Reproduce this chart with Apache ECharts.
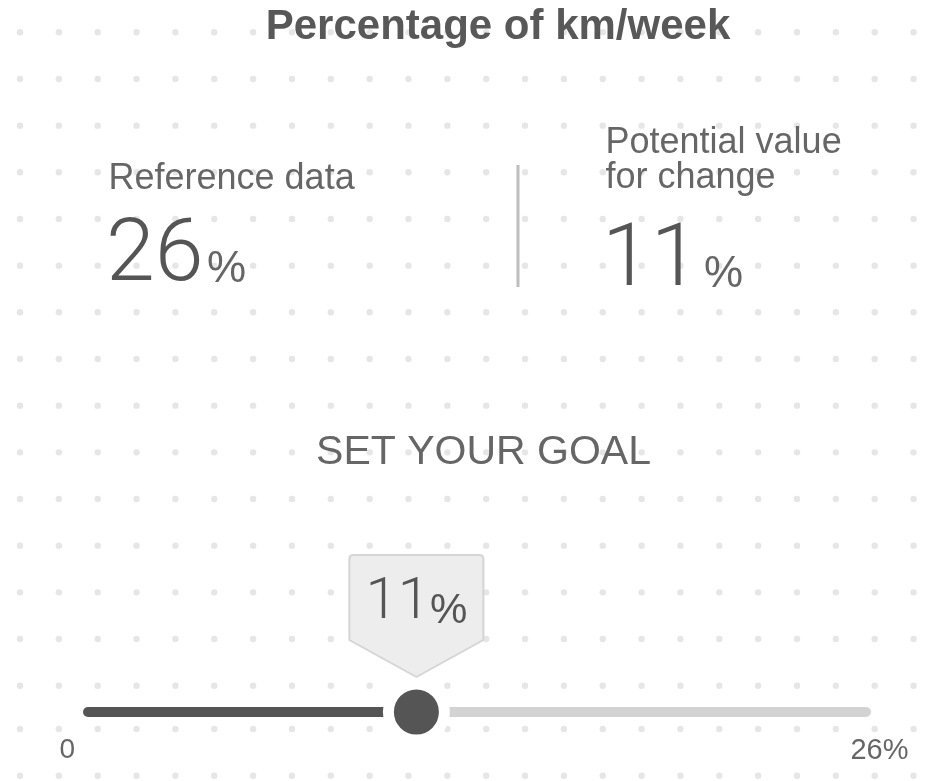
<!DOCTYPE html>
<html>
<head>
<meta charset="utf-8">
<script src="https://cdn.jsdelivr.net/npm/echarts@6/dist/echarts.min.js"></script>
<style>
  html, body { margin: 0; padding: 0; background: #fff; }
  #main { width: 948px; height: 781px; }
</style>
</head>
<body>
<div id="main"></div>
<script>
// data
var chartTitle = 'Percentage of km/week';
var panelLabels = ['Reference data', 'Potential value\nfor change'];
var panelValues = [26, 11];
var goalLabel = ['SET YOUR GOAL'];
var goalValue = [11];
var sliderRange = [0, 26];
var sliderTickLabels = ['0', '26%'];

var FONT = '"Helvetica Neue", "Liberation Sans", Arial, sans-serif';
var THIN = 'Roboto, "Liberation Sans", sans-serif';
var DARK = '#555555';
var MID = '#666666';

// dotted paper background (decoration only)
function dotGrid() {
  var dots = [];
  var rows = [];
  for (var j = 0; j < 15; j++) rows.push(32.3 + 46.67 * j);
  rows.push(729, 775.7);
  rows.forEach(function (cy) {
    for (var i = 0; i < 24; i++) {
      dots.push({
        type: 'circle',
        shape: { cx: 20 + 38.85 * i, cy: cy, r: 3.2 },
        style: { fill: '#e6e6e6' },
        silent: true
      });
    }
  });
  return { type: 'group', z: -10, children: dots };
}

function txt(x, y, text, size, color, opts) {
  opts = opts || {};
  return {
    type: 'text',
    x: x,
    y: y,
    z: 10,
    silent: true,
    style: {
      text: text,
      font: (opts.weight || 'normal') + ' ' + size + 'px ' + (opts.family || FONT),
      fill: color,
      align: opts.align || 'left',
      verticalAlign: 'middle',
      lineHeight: opts.lineHeight
    }
  };
}

var chart = echarts.init(document.getElementById('main'), null, { renderer: 'canvas' });

var options = {
  backgroundColor: '#ffffff',
  animation: false,
  graphic: [
    dotGrid(),
    txt(498, 27, chartTitle, 42, '#585858', { weight: 'bold', align: 'center' }),
    // left panel
    txt(108.5, 179.5, panelLabels[0], 36, MID),
    txt(106, 257.5, String(panelValues[0]), 88, DARK, { weight: 300, family: THIN }),
    txt(207, 269.5, '%', 44, MID),
    // divider
    {
      type: 'line', z: 10, silent: true,
      shape: { x1: 518, y1: 165, x2: 518, y2: 287 },
      style: { stroke: '#bdbdbd', lineWidth: 3 }
    },
    // right panel
    txt(605.5, 161, panelLabels[1], 36, MID, { lineHeight: 35 }),
    txt(602, 262.5, String(panelValues[1]), 88, DARK, { weight: 300, family: THIN }),
    txt(704, 274.5, '%', 44, MID),
    txt(483.5, 452.8, goalLabel[0], 41, MID, { align: 'center' })
  ],
  grid: {
    left: 83,
    right: 77,
    top: 690,
    height: 44
  },
  xAxis: {
    type: 'value',
    min: sliderRange[0],
    max: sliderRange[1],
    interval: sliderRange[1] - sliderRange[0],
    axisLine: { show: false },
    axisTick: { show: false },
    splitLine: { show: false },
    axisLabel: {
      show: true,
      margin: 2,
      showMinLabel: true,
      showMaxLabel: true,
      alignMinLabel: 'right',
      alignMaxLabel: 'center',
      formatter: function (v) {
        if (v === sliderRange[0]) return '{lo|' + sliderTickLabels[0] + '}';
        return '{hi|' + sliderTickLabels[1] + '}';
      },
      rich: {
        lo: { fontSize: 28, color: MID, fontFamily: FONT, padding: [0, 8, 0, 0] },
        hi: { fontSize: 29, color: MID, fontFamily: FONT, padding: [0, 0, 0, 17] }
      }
    }
  },
  yAxis: {
    type: 'category',
    data: ['goal'],
    show: false
  },
  series: [
    {
      name: 'goal',
      type: 'bar',
      stack: 'track',
      barWidth: 10,
      silent: true,
      itemStyle: { color: DARK, borderRadius: [5, 0, 0, 5] },
      data: [goalValue[0]]
    },
    {
      name: 'rest',
      type: 'bar',
      stack: 'track',
      barWidth: 10,
      silent: true,
      itemStyle: { color: '#d3d3d3', borderRadius: [0, 5, 5, 0] },
      data: [sliderRange[1] - goalValue[0]]
    },
    {
      name: 'badge',
      type: 'scatter',
      z: 5,
      silent: true,
      symbol: 'path://M4,0 L130,0 Q134,0 134,4 L134,85 L67,122 L0,85 L0,4 Q0,0 4,0 Z',
      symbolSize: [134, 122],
      symbolOffset: [0, -96],
      itemStyle: { color: '#ededed', borderColor: '#d6d6d6', borderWidth: 2, opacity: 1 },
      label: {
        show: true,
        position: 'inside',
        offset: [0, -13],
        formatter: function (p) {
          return '{n|' + p.value[0] + '}{p|%}';
        },
        rich: {
          n: { fontSize: 58, lineHeight: 58, color: DARK, fontFamily: THIN, fontWeight: 300, verticalAlign: 'bottom' },
          p: { fontSize: 42, lineHeight: 55, color: DARK, fontFamily: FONT, verticalAlign: 'bottom' }
        }
      },
      data: [[goalValue[0], 'goal']]
    },
    {
      name: 'handle',
      type: 'scatter',
      z: 6,
      silent: true,
      symbol: 'circle',
      symbolSize: 56,
      itemStyle: { color: DARK, borderColor: '#ffffff', borderWidth: 11, opacity: 1 },
      data: [[goalValue[0], 'goal']]
    }
  ]
};

chart.setOption(options);
</script>
</body>
</html>
